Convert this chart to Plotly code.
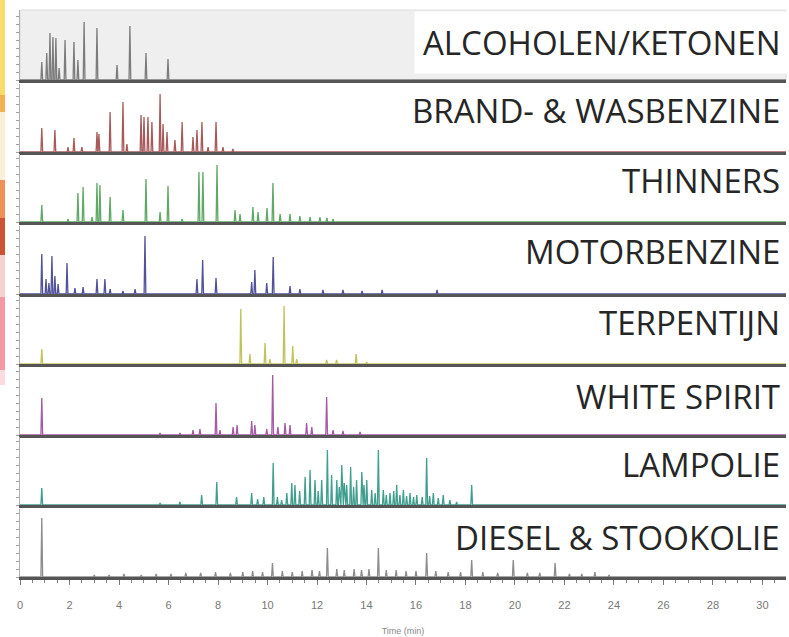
import plotly.graph_objects as go

# ---------------- data ----------------
sample_names = ["ALCOHOLEN/KETONEN", "BRAND- &amp; WASBENZINE", "THINNERS", "MOTORBENZINE",
                "TERPENTIJN", "WHITE SPIRIT", "LAMPOLIE", "DIESEL &amp; STOOKOLIE"]
sample_colors = ["#7c7c7c", "#a85a5a", "#5fa866", "#52529a",
                 "#c2c25a", "#a45aa4", "#3f9e8e", "#8c8c8c"]

time_ticks = list(range(0, 31, 2))
time_tick_labels = [str(t) for t in time_ticks]

alc_rt = [0.88, 1.08, 1.21, 1.33, 1.45, 1.58, 1.82, 2.18, 2.34, 2.59, 3.11, 3.92, 4.44, 5.09, 5.98]
alc_h = [18, 27, 47, 43, 42, 12, 40, 38, 20, 58, 52, 15, 54, 27, 21]

brand_rt = [0.88, 1.41, 1.94, 2.18, 2.50, 3.11, 3.19, 3.64, 4.16, 4.32, 4.89, 5.01, 5.17, 5.33,
            5.66, 5.78, 5.94, 6.26, 6.55, 6.99, 7.15, 7.35, 7.60, 7.92, 8.20, 8.60]
brand_h = [24, 22, 5, 14, 5, 20, 18, 40, 50, 8, 37, 35, 35, 30,
           58, 28, 20, 12, 30, 15, 22, 30, 5, 30, 5, 3]

thin_rt = [0.88, 1.94, 2.34, 2.55, 2.91, 3.11, 3.23, 3.64, 4.16, 5.09, 5.66, 5.98, 6.55, 7.23,
           7.39, 7.96, 8.69, 8.89, 9.41, 9.62, 9.98, 10.22, 10.51, 10.91, 11.31, 11.72, 12.12, 12.40, 12.65]
thin_h = [17, 3, 29, 35, 5, 39, 37, 25, 12, 43, 10, 36, 3, 50,
          50, 57, 12, 8, 15, 10, 14, 39, 8, 8, 6, 5, 5, 4, 3]

motor_rt = [0.88, 1.05, 1.17, 1.29, 1.41, 1.54, 1.90, 2.22, 2.55, 3.11, 3.43, 3.64, 4.16, 4.65,
            5.05, 7.15, 7.38, 7.92, 9.36, 9.49, 9.97, 10.23, 10.91, 11.31, 12.24, 13.05, 13.82, 14.63, 16.85]
motor_h = [40, 15, 11, 38, 18, 10, 31, 6, 7, 15, 15, 5, 3, 5,
           58, 15, 34, 16, 12, 24, 11, 37, 8, 5, 4, 4, 3, 4, 4]

terp_rt = [0.88, 8.92, 9.29, 9.90, 10.10, 10.67, 11.02, 11.18, 12.39, 12.79, 13.58, 14.01]
terp_h = [15, 55, 10, 21, 5, 58, 18, 5, 4, 4, 10, 2]

ws_rt = [0.88, 5.66, 6.46, 6.99, 7.27, 7.92, 8.08, 8.61, 8.77, 9.36, 9.49, 9.97, 10.21, 10.42,
         10.71, 10.91, 11.58, 11.79, 12.39, 12.65, 13.05, 13.74]
ws_h = [37, 2, 2, 5, 6, 32, 5, 8, 10, 14, 10, 6, 60, 8,
        12, 10, 12, 8, 38, 5, 4, 3]

lamp_rt = [0.88, 5.66, 6.46, 7.34, 7.95, 8.75, 9.36, 9.60, 9.85, 10.23, 10.40, 10.57, 10.78, 10.98,
           11.11, 11.30, 11.52, 11.72, 11.92, 12.05, 12.19, 12.42, 12.59, 12.80, 12.90, 13.00, 13.10,
           13.20, 13.36, 13.48, 13.60, 13.81, 13.90, 14.01, 14.21, 14.35, 14.48, 14.68, 14.80, 14.95,
           15.10, 15.22, 15.35, 15.49, 15.62, 15.76, 15.90, 16.03, 16.25, 16.43, 16.55, 16.70, 16.90,
           17.10, 17.37, 17.64, 18.25]
lamp_h = [17, 2, 3, 10, 23, 8, 12, 6, 8, 42, 8, 5, 12, 22,
          20, 14, 28, 35, 25, 14, 25, 55, 30, 25, 18, 40, 22,
          20, 38, 18, 25, 33, 20, 25, 15, 12, 55, 15, 10, 12,
          14, 20, 10, 15, 9, 12, 8, 10, 8, 47, 9, 12, 7,
          10, 5, 3, 20]

diesel_rt = [0.88, 3.0, 3.6, 4.2, 4.9, 5.5, 6.1, 6.7, 7.3, 7.9, 8.5, 9.0, 9.4, 9.8, 10.2, 10.6,
             11.0, 11.4, 11.8, 12.1, 12.42, 12.8, 13.1, 13.5, 13.8, 14.1, 14.48, 14.8, 15.2, 15.6,
             16.0, 16.43, 16.8, 17.3, 17.8, 18.25, 18.7, 19.3, 19.93, 20.5, 21.0, 21.62, 22.2,
             22.7, 23.23, 23.8]
diesel_h = [59, 2, 2, 3, 2, 3, 3, 4, 4, 5, 4, 5, 6, 5, 14, 6,
            5, 6, 7, 6, 29, 8, 7, 8, 7, 8, 29, 7, 7, 6,
            6, 24, 6, 5, 5, 17, 5, 4, 17, 4, 4, 14, 3,
            3, 5, 2]

peak_rts = [alc_rt, brand_rt, thin_rt, motor_rt, terp_rt, ws_rt, lamp_rt, diesel_rt]
peak_hs = [alc_h, brand_h, thin_h, motor_h, terp_h, ws_h, lamp_h, diesel_h]

# ---------------- layout geometry ----------------
W, H = 789, 637
ML, MR, MT, MB = 20, 3, 0, 60
PH = H - MT - MB
baselines_px = [80, 152, 222, 294, 364, 435, 505, 577]
tops_px = [10, 84, 154, 226, 296, 367, 437, 509]
label_y_px = [42, 110, 181, 251, 322, 396, 464, 537]
LABEL_RIGHT_PX = 789
XMAX = 30.95
LABEL_FONT = "Open Sans, sans-serif"
SMALL_FONT = "Liberation Sans Narrow, Liberation Sans, sans-serif"


def fy(ypx):
    return (MT + PH - ypx) / PH


def trace_xy(rt, h, w=0.035):
    pts = sorted(zip(rt, h))
    xs, ys = [0.0], [0.0]
    for t, v in pts:
        xs += [t - w, t, t + w]
        ys += [0, v, 0]
    xs.append(XMAX)
    ys.append(0)
    return xs, ys


fig = go.Figure()
n = len(sample_names)
for i in range(n):
    k = "" if i == 0 else str(i + 1)
    xs, ys = trace_xy(peak_rts[i], peak_hs[i])
    fig.add_trace(go.Scatter(x=xs, y=ys, mode="lines",
                             line=dict(color=sample_colors[i], width=1.3),
                             xaxis="x" + k, yaxis="y" + k, showlegend=False,
                             hoverinfo="skip"))
    b, t = baselines_px[i], tops_px[i]
    ymax = b - t
    last = i == n - 1
    xa = dict(domain=[0, 1], anchor="y" + k, range=[0, XMAX], automargin=False,
              showline=True, linecolor="#555555", linewidth=2.5,
              showgrid=False, zeroline=False, mirror=False)
    if i > 0:
        xa["matches"] = "x"
    if last:
        xa.update(ticks="outside", ticklen=5, tickcolor="#777777", tickwidth=1,
                  tickvals=time_ticks, ticktext=time_tick_labels,
                  tickfont=dict(family=SMALL_FONT, size=11, color="#777777"),
                  ticklabelstandoff=11,
                  minor=dict(dtick=0.5, ticks="outside", ticklen=3, tickcolor="#888888"),
                  title=dict(text="Time (min)", standoff=18,
                             font=dict(family=SMALL_FONT, size=9, color="#888888")))
    else:
        xa.update(ticks="", showticklabels=False)
    ya = dict(domain=[fy(b), fy(t)], anchor="x" + k, range=[0, ymax], automargin=False,
              showline=True, linecolor="#b0b0b0", linewidth=1,
              ticks="outside", ticklen=3, tickcolor="#a0a0a0", dtick=8,
              showticklabels=False, showgrid=False, zeroline=False)
    fig.layout["xaxis" + k] = xa
    fig.layout["yaxis" + k] = ya

    fig.add_annotation(text=sample_names[i], xref=("x" + k + " domain") if k else "x domain",
                       yref=("y" + k + " domain") if k else "y domain",
                       x=(LABEL_RIGHT_PX - ML) / (W - ML - MR), y=(b - label_y_px[i]) / ymax,
                       xanchor="right", yanchor="middle", showarrow=False,
                       bgcolor="white" if i == 0 else "rgba(0,0,0,0)",
                       borderpad=8,
                       font=dict(family=LABEL_FONT, size=33, color="#262626"))

# grey background of top panel
fig.add_shape(type="rect", xref="x domain", yref="y domain", x0=0, x1=1.0, y0=0, y1=1,
              fillcolor="#efefef", line=dict(color="#dddddd", width=1), layer="below")

# coloured strip at left edge (cropped image remnant)
strip = [(0, 95, "#f9dc6a"), (95, 112, "#f2b050"), (112, 180, "#fcefd8"), (180, 218, "#f09058"),
         (218, 255, "#cc5434"), (255, 297, "#f8d0ce"), (297, 370, "#f398a4"), (370, 385, "#fadce0")]
pw = W - ML - MR
for y0, y1, c in strip:
    fig.add_shape(type="rect", xref="paper", yref="paper",
                  x0=(0 - ML) / pw, x1=(5 - ML) / pw, y0=fy(y1), y1=fy(y0),
                  fillcolor=c, line=dict(width=0), layer="above")

fig.update_layout(width=W, height=H, margin=dict(l=ML, r=MR, t=MT, b=MB, autoexpand=False),
                  paper_bgcolor="white", plot_bgcolor="white", showlegend=False)

fig.write_html("out.html", config={"displayModeBar": False},
               post_script="document.body.style.margin='0';document.body.style.overflow='hidden';")
